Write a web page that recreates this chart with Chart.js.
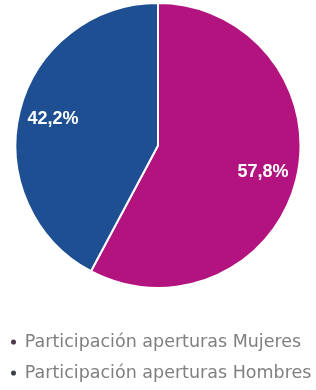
<!DOCTYPE html>
<html>
<head>
<meta charset="utf-8">
<script src="https://cdn.jsdelivr.net/npm/chart.js@4"></script>
<style>
  html, body { margin: 0; padding: 0; background: #ffffff; }
  #wrap { width: 316px; height: 390px; position: relative; }
</style>
</head>
<body>
<div id="wrap"><canvas id="c"></canvas></div>
<script>
const categories = ['Participación aperturas Mujeres', 'Participación aperturas Hombres'];
const values = [57.8, 42.2];
const valueLabels = ['57,8%', '42,2%'];
const sliceColors = ['#B2137F', '#1E4F92'];
const markerColors = ['#4e3a48', '#3c4048'];

const sliceLabels = {
  id: 'sliceLabels',
  afterDatasetsDraw(chart) {
    const ctx = chart.ctx;
    const meta = chart.getDatasetMeta(0);
    ctx.save();
    ctx.font = 'bold 18px "Liberation Sans", Arial, sans-serif';
    ctx.fillStyle = '#ffffff';
    ctx.textAlign = 'center';
    ctx.textBaseline = 'middle';
    meta.data.forEach((arc, i) => {
      const p = arc.getProps(['x', 'y', 'startAngle', 'endAngle', 'outerRadius'], true);
      const mid = (p.startAngle + p.endAngle) / 2;
      const r = p.outerRadius * 0.76;
      ctx.fillText(valueLabels[i], p.x + Math.cos(mid) * r, p.y + Math.sin(mid) * r);
    });
    ctx.restore();
  }
};

new Chart(document.getElementById('c'), {
  type: 'pie',
  data: {
    labels: categories,
    datasets: [{
      data: values,
      backgroundColor: sliceColors,
      borderColor: '#ffffff',
      borderWidth: 2,
      hoverOffset: 0
    }]
  },
  options: {
    responsive: true,
    maintainAspectRatio: false,
    animation: false,
    layout: { padding: { top: 2, left: -2.5, right: -4, bottom: -1.75 } },
    plugins: {
      tooltip: { enabled: false },
      legend: {
        position: 'bottom',
        align: 'start',
        title: { display: true, text: '', padding: { top: 20.75, bottom: 0 }, font: { size: 10, lineHeight: 1 } },
        labels: {
          usePointStyle: true,
          pointStyle: 'circle',
          pointStyleWidth: 5,
          boxHeight: 3.6,
          padding: 13.5,
          color: '#7f7f7f',
          font: { family: '"DejaVu Sans", sans-serif', size: 17.5 },
          generateLabels(chart) {
            return categories.map((t, i) => ({
              text: t,
              fillStyle: markerColors[i],
              strokeStyle: markerColors[i],
              lineWidth: 0,
              pointStyle: 'circle',
              fontColor: '#7f7f7f',
              hidden: false,
              index: i
            }));
          }
        }
      }
    }
  },
  plugins: [sliceLabels]
});
</script>
</body>
</html>
